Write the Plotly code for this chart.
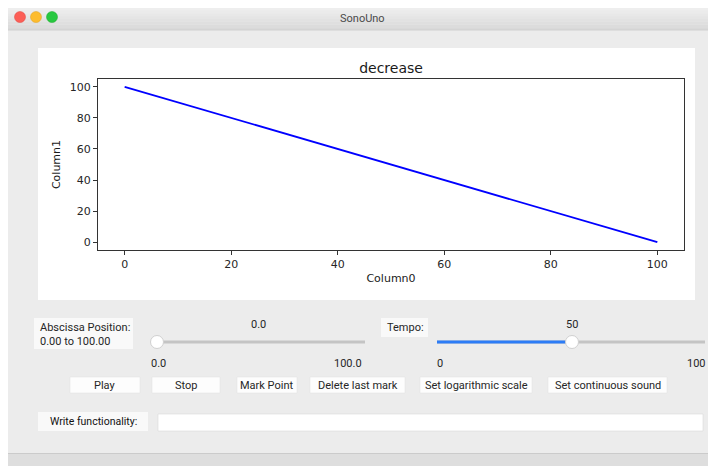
import plotly.graph_objects as go

# ---- data ----
column0 = [0, 20, 40, 60, 80, 100]
column1 = [100, 80, 60, 40, 20, 0]
x_ticks = [0, 20, 40, 60, 80, 100]
y_ticks = [0, 20, 40, 60, 80, 100]
chart_title = "decrease"
window_title = "SonoUno"
buttons = ["Play", "Stop", "Mark Point", "Delete last mark",
           "Set logarithmic scale", "Set continuous sound"]
abscissa_value = 0.0
abscissa_min, abscissa_max = 0.0, 100.0
tempo_value = 50
tempo_min, tempo_max = 0, 100

# ---- geometry (pixels, in reference/page coordinates) ----
OFF = 8                      # page body margin
PAGE_W, PAGE_H = 716, 466
FW, FH = PAGE_W - OFF, PAGE_H - OFF
L, R, T, B = 98, 684, 79, 250
PW, PH = R - L, B - T


def px(x):
    return (x - L) / PW


def py(y):
    return (B - y) / PH


shapes = []
annotations = []


def rect(x0, y0, x1, y1, fill, line=None, lw=0, layer="below"):
    shapes.append(dict(type="rect", xref="paper", yref="paper",
                       x0=px(x0), x1=px(x1), y0=py(y1), y1=py(y0),
                       fillcolor=fill, layer=layer,
                       line=dict(color=line or fill, width=lw)))


def hline(x0, x1, y, color, w, layer="above"):
    shapes.append(dict(type="line", xref="paper", yref="paper",
                       x0=px(x0), x1=px(x1), y0=py(y), y1=py(y),
                       layer=layer, line=dict(color=color, width=w)))


def circle(cx, cy, r, fill, line, lw=1):
    shapes.append(dict(type="circle", xref="paper", yref="paper",
                       x0=px(cx - r), x1=px(cx + r), y0=py(cy + r), y1=py(cy - r),
                       fillcolor=fill, layer="above", line=dict(color=line, width=lw)))


UIF = "Roboto, Liberation Sans, sans-serif"


def text(x, y, s, size=11, anchor="center", color="#262626", font=UIF):
    annotations.append(dict(xref="paper", yref="paper", x=px(x), y=py(y),
                            text=s, showarrow=False, xanchor=anchor, yanchor="middle",
                            font=dict(family=font, size=size, color=color)))


# window background
rect(8, 8, PAGE_W + 2, PAGE_H + 2, "#ececec")
# title bar (stepped gradient)
tb = ["#eeeeee", "#ebebeb", "#e8e8e8", "#e5e5e5", "#e2e2e2", "#dfdfdf", "#dcdcdc", "#d9d9d9"]
for i, c in enumerate(tb):
    rect(8, 8 + i * 2.75, PAGE_W + 2, 8 + (i + 1) * 2.75, c)
hline(8, PAGE_W + 2, 30, "#cfcfcf", 1, layer="below")
for cx, c, lc in [(20, "#fc5f57", "#e0443e"), (36, "#fdbc2e", "#dea123"), (52, "#28c840", "#1aab29")]:
    circle(cx, 17, 5.5, c, lc, 0.5)
text(362, 18, window_title, size=11, color="#4a4a4a")

# white plot panel
rect(38, 48, 695, 300, "#ffffff")

# label boxes
rect(34, 318, 133, 349, "#f9f9f9")
text(38, 327, "Abscissa Position:", anchor="left")
text(38, 341, "0.00 to 100.00", anchor="left")
rect(381, 318, 428, 337, "#f9f9f9")
text(385, 327, "Tempo:", anchor="left")

# slider 1 (abscissa)
s1x0, s1x1 = 157, 365
hline(s1x0, s1x1, 342, "#c4c4c4", 3)
k1 = s1x0 + (abscissa_value - abscissa_min) / (abscissa_max - abscissa_min) * (s1x1 - s1x0)
circle(k1, 342, 6.5, "#ffffff", "#d0d0d0", 1)
text(258, 324, f"{abscissa_value:.1f}")
text(158, 363, f"{abscissa_min:.1f}")
text(348, 363, f"{abscissa_max:.1f}")

# slider 2 (tempo)
s2x0, s2x1 = 437, 705
k2 = 572
hline(s2x0, s2x1, 342, "#c4c4c4", 3)
hline(s2x0, k2, 342, "#2d7cf6", 3)
circle(k2, 342, 6.5, "#ffffff", "#d0d0d0", 1)
text(k2, 324, f"{tempo_value}")
text(440, 363, f"{tempo_min}")
text(696, 363, f"{tempo_max}")

# buttons
bpos = [(70, 140), (152, 220), (237, 297), (310, 405), (420, 532), (548, 667)]
for (b0, b1), lab in zip(bpos, buttons):
    rect(b0, 377, b1, 393, "#fdfdfd", "#e2e2e2", 0.5)
    text((b0 + b1) / 2, 385, lab)

# write functionality
rect(38, 412, 148, 431, "#f9f9f9")
text(93, 421, "Write functionality:", size=10.5, color="#111111")
rect(158, 414, 703, 431, "#ffffff", "#dadada", 0.6)

# bottom bar
rect(8, 454, PAGE_W + 2, PAGE_H + 2, "#dedede")
hline(8, PAGE_W + 2, 453.5, "#cbcbcb", 1, layer="below")

PF = "DejaVu Sans, sans-serif"

fig = go.Figure()
fig.add_trace(go.Scatter(x=column0, y=column1, mode="lines",
                         line=dict(color="#0000ff", width=1.8),
                         hoverinfo="skip", showlegend=False))

axis_common = dict(showline=True, linecolor="#333333", linewidth=1, mirror=True,
                   ticks="outside", ticklen=4, tickwidth=1, tickcolor="#333333",
                   showgrid=False, zeroline=False,
                   tickfont=dict(family=PF, size=11, color="#262626"))

fig.update_layout(
    width=FW, height=FH,
    margin=dict(l=L - OFF, r=PAGE_W - R, t=T - OFF, b=PAGE_H - B, pad=0),
    paper_bgcolor="#ffffff", plot_bgcolor="#ffffff",
    title=dict(text=chart_title, x=0.5, xref="paper", y=1 - (68 - OFF) / FH,
               yref="container", xanchor="center", yanchor="middle",
               font=dict(family=PF, size=14, color="#1a1a1a")),
    xaxis=dict(range=[-5, 105], tickvals=x_ticks,
               title=dict(text="Column0", standoff=4,
                          font=dict(family=PF, size=11, color="#1a1a1a")),
               **axis_common),
    yaxis=dict(range=[-5, 105], tickvals=y_ticks,
               title=dict(text="Column1", standoff=6,
                          font=dict(family=PF, size=11, color="#1a1a1a")),
               **axis_common),
    shapes=shapes,
    annotations=annotations,
    showlegend=False,
)

fig.write_html("out.html", config={"displayModeBar": False})
